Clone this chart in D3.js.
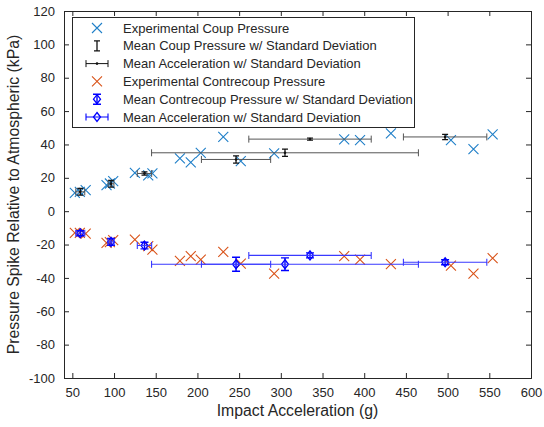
<!DOCTYPE html>
<meta charset="utf-8">
<script src="https://d3js.org/d3.v7.min.js"></script>
<style>
  body { margin: 0; background: #fff; }
  text { font-family: "Liberation Sans", Arial, sans-serif; fill: #262626; }
</style>
<div id="chart"></div>
<script>

    // accelerations (g) of every test, shared by coup and contrecoup readings
    var accel = [53, 59, 66, 91, 95, 99, 125, 141, 146, 179, 192, 204, 231, 252, 292, 376, 395, 432, 504, 531, 554];
    var coup = [11, 11.6, 12.6, 15.6, 16.6, 18, 23, 21.5, 22.6, 31.6, 29.2, 35, 44.6, 30, 34.6, 43, 42.6, 46.6, 42.6, 37.2, 46];
    var contrecoup = [-13, -13, -13.4, -19, -18.5, -17.4, -17, -21, -23, -29.8, -27, -29, -24.4, -31.4, -37.4, -27, -29, -31.8, -32.6, -37.4, -28.2];

    // group means and standard deviations
    var meanAccel = [59.5, 96.4, 136.5, 246.3, 305, 335, 497];
    var sdAccel = [5.4, 3.5, 8.6, 41.5, 160, 73.4, 50];
    var meanCoup = [11.6, 16.4, 22.6, 31, 35, 43.2, 44.5];
    var sdCoup = [2, 2, 1, 2.2, 2.2, 0.6, 1.6];
    var meanContre = [-13.2, -18.4, -20.6, -31.8, -31.8, -26.5, -30.6];
    var sdContre = [1.5, 2, 2, 4.2, 3.8, 1.5, 1.5];

    var xTicks = [50, 100, 150, 200, 250, 300, 350, 400, 450, 500, 550, 600];
    var yTicks = [-100, -80, -60, -40, -20, 0, 20, 40, 60, 80, 100, 120];

    var legendLabels = [
        "Experimental Coup Pressure",
        "Mean Coup Pressure w/ Standard Deviation",
        "Mean Acceleration w/ Standard Deviation",
        "Experimental Contrecoup Pressure",
        "Mean Contrecoup Pressure w/ Standard Deviation",
        "Mean Acceleration w/ Standard Deviation"
    ];

    var W = 544, H = 427;
    var pLeft = 64, pRight = 531, pTop = 11, pBottom = 378;

    var svg = d3.select("#chart").append("svg")
        .attr("width", W)
        .attr("height", H);

    var x = d3.scaleLinear().domain([40, 600]).range([pLeft, pRight]);
    var y = d3.scaleLinear().domain([-100, 120]).range([pBottom, pTop]);

    var axisColor = "#262626";
    var blueX = "#1f7fc8", orange = "#d95319", blue = "#0000ff";
    var fmt = function (d) { return String(d); };

    // axes, ticks inward, box on
    svg.append("g").attr("transform", "translate(0," + pBottom + ")")
        .call(d3.axisBottom(x).tickValues(xTicks).tickSize(-5).tickPadding(10).tickFormat(fmt));
    svg.append("g").attr("transform", "translate(" + pLeft + ",0)")
        .call(d3.axisLeft(y).tickValues(yTicks).tickSize(-5).tickPadding(9).tickFormat(fmt));
    svg.append("g").attr("transform", "translate(0," + pTop + ")")
        .call(d3.axisTop(x).tickValues(xTicks).tickSize(-5).tickFormat(""));
    svg.append("g").attr("transform", "translate(" + pRight + ",0)")
        .call(d3.axisRight(y).tickValues(yTicks).tickSize(-5).tickFormat(""));
    svg.selectAll(".domain, .tick line").attr("stroke", axisColor);
    svg.selectAll(".tick text").style("font-size", "13px")
        .style("font-family", "'Liberation Sans', Arial, sans-serif").attr("fill", axisColor);

    svg.append("text")
        .attr("x", (pLeft + pRight) / 2).attr("y", 416)
        .attr("text-anchor", "middle")
        .style("font-size", "15.8px")
        .text("Impact Acceleration (g)");
    svg.append("text")
        .attr("transform", "translate(19," + (pTop + pBottom) / 2 + ")rotate(-90)")
        .attr("text-anchor", "middle")
        .style("font-size", "15.8px")
        .text("Pressure Spike Relative to Atmospheric (kPa)");

    var plot = svg.append("g");

    function cross(g, cx, cy, r, color) {
        g.append("path")
            .attr("d", "M" + (cx - r) + "," + (cy - r) + "L" + (cx + r) + "," + (cy + r) +
                "M" + (cx - r) + "," + (cy + r) + "L" + (cx + r) + "," + (cy - r))
            .attr("stroke", color).attr("stroke-width", 1.1).attr("fill", "none");
    }
    function vbar(g, cx, y0, y1, cap, color, w) {
        g.append("path")
            .attr("d", "M" + cx + "," + y0 + "V" + y1 +
                "M" + (cx - cap) + "," + y0 + "H" + (cx + cap) +
                "M" + (cx - cap) + "," + y1 + "H" + (cx + cap))
            .attr("stroke", color).attr("stroke-width", w).attr("fill", "none");
    }
    function hbar(g, cy, x0, x1, cap, color, w) {
        g.append("path")
            .attr("d", "M" + x0 + "," + cy + "H" + x1 +
                "M" + x0 + "," + (cy - cap) + "V" + (cy + cap) +
                "M" + x1 + "," + (cy - cap) + "V" + (cy + cap))
            .attr("stroke", color).attr("stroke-width", w).attr("fill", "none");
    }
    function diamond(g, cx, cy, color) {
        g.append("path")
            .attr("d", "M" + cx + "," + (cy - 4.5) + "L" + (cx + 3.5) + "," + cy +
                "L" + cx + "," + (cy + 4.5) + "L" + (cx - 3.5) + "," + cy + "Z")
            .attr("stroke", color).attr("stroke-width", 1.3).attr("fill", "none");
    }

    // coup
    accel.forEach(function (a, i) { cross(plot, x(a), y(coup[i]), 5, blueX); });
    meanAccel.forEach(function (a, i) {
        vbar(plot, x(a), y(meanCoup[i] + sdCoup[i]), y(meanCoup[i] - sdCoup[i]), 3, "#111", 1.3);
    });
    meanAccel.forEach(function (a, i) {
        hbar(plot, y(meanCoup[i]), x(a - sdAccel[i]), x(a + sdAccel[i]), 3.5, "#555", 1);
        plot.append("circle").attr("cx", x(a)).attr("cy", y(meanCoup[i])).attr("r", 1.3).attr("fill", "#111");
    });

    // contrecoup
    accel.forEach(function (a, i) { cross(plot, x(a), y(contrecoup[i]), 5, orange); });
    meanAccel.forEach(function (a, i) {
        vbar(plot, x(a), y(meanContre[i] + sdContre[i]), y(meanContre[i] - sdContre[i]), 4, blue, 1.4);
        diamond(plot, x(a), y(meanContre[i]), blue);
    });
    meanAccel.forEach(function (a, i) {
        hbar(plot, y(meanContre[i]), x(a - sdAccel[i]), x(a + sdAccel[i]), 3.5, "#3a3aff", 1.1);
    });

    // legend
    var lg = svg.append("g");
    lg.append("rect").attr("x", 72.5).attr("y", 17.5).attr("width", 342).attr("height", 110)
        .attr("fill", "#fff").attr("stroke", axisColor).attr("stroke-width", 1);
    var rowY = d3.range(6).map(function (i) { return 28 + i * 17.8; });
    var sx = 97;
    legendLabels.forEach(function (t, i) {
        lg.append("text").attr("x", 123).attr("y", rowY[i] + 4.5)
            .style("font-size", "13px").text(t);
    });
    cross(lg, sx, rowY[0], 5, blueX);
    vbar(lg, sx, rowY[1] - 5, rowY[1] + 5, 3, "#111", 1.3);
    hbar(lg, rowY[2], sx - 11, sx + 11, 3.5, "#111", 1);
    lg.append("circle").attr("cx", sx).attr("cy", rowY[2]).attr("r", 1.3).attr("fill", "#111");
    cross(lg, sx, rowY[3], 5, orange);
    vbar(lg, sx, rowY[4] - 5, rowY[4] + 5, 4, blue, 1.4);
    diamond(lg, sx, rowY[4], blue);
    hbar(lg, rowY[5], sx - 11, sx + 11, 3.5, blue, 1.1);
    diamond(lg, sx, rowY[5], blue);

</script>
